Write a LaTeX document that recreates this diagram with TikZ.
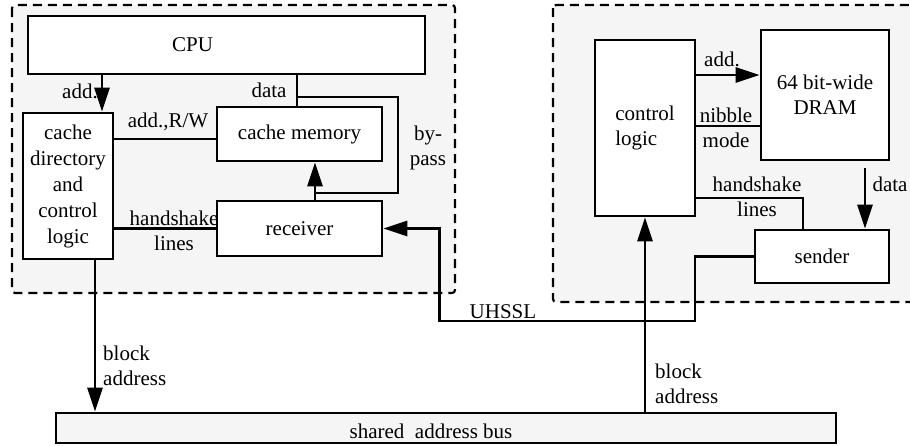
\documentclass[tikz,border=0pt]{standalone}
\usepackage{fontspec}
\setmainfont{Liberation Serif}
\usetikzlibrary{arrows.meta}
\definecolor{grpfill}{HTML}{F5F5F5}

\begin{document}
\begin{tikzpicture}[x=1pt,y=-1pt,
  font=\fontsize{21}{25}\selectfont,
  box/.style={draw, line width=2.8pt, fill=white, inner sep=0pt, align=center},
  grp/.style={draw, line width=2.2pt, dash pattern=on 9pt off 6pt, fill=grpfill, rounded corners=3pt},
  wire/.style={line width=2.8pt},
  arr/.style={wire, -{Triangle[length=24pt,width=15pt]}},
  lbl/.style={inner sep=0pt, align=center}]

\useasboundingbox (0,0) rectangle (910,445);

% Groups
  \draw[grp] (12,5) rectangle (455,293);
  \draw[grp] (553,5) rectangle (925,302);

% Nodes
  \node[box, minimum width=397, minimum height=58]  (cpu)       at (226.5,45)  {CPU\hspace{68pt}};
  \node[box, minimum width=90, minimum height=146,
        font=\fontsize{21}{26}\selectfont]           (cacheDir)  at (68,186)    {cache\\directory\\and\\control\\logic};
  \node[box, minimum width=165, minimum height=54]  (cacheMem)  at (299.5,134) {cache memory};
  \node[box, minimum width=165, minimum height=55]  (receiver)  at (299.5,228.5) {receiver};
  \node[box, minimum width=100, minimum height=176,
        align=left]                                  (ctrlLogic) at (645,128)   {control\\logic};
  \node[box, minimum width=128, minimum height=130] (dram)      at (825,95)    {64 bit-wide\\DRAM};
  \node[box, minimum width=134, minimum height=53]  (sender)    at (822,256.5) {sender};
  \node[box, minimum width=780, minimum height=30,
        fill=grpfill]                                (bus)       at (446,428)   {\raisebox{-6pt}[9pt][0pt]{shared\ \ address bus}\hspace{30pt}};

% Labels
  \node[lbl] (lblAdd)     at (80,91)   {add.};
  \node[lbl] (lblData)    at (269,90)  {data};
  \node[lbl] (lblAddRW)   at (168,122) {add.,R/W};
  \node[lbl] (lblHsL)     at (174,231) {handshake\\lines};
  \node[lbl] (lblBypass)  at (428,148) {by-\\pass};
  \node[lbl] (lblUhssl)   at (503,312) {UHSSL};
  \node[lbl] (lblAddR)    at (722,59)  {add.};
  \node[lbl] (lblNibble)  at (726,128) {nibble\\mode};
  \node[lbl] (lblHsR)     at (757,197) {handshake\\lines};
  \node[lbl] (lblDataR)   at (890,184) {data};
  \node[lbl, align=left, anchor=west] (lblBlkL) at (103,366) {block\\address};
  \node[lbl, align=left, anchor=west] (lblBlkR) at (655,384) {block\\address};

% Coordinates
  \coordinate (addL)      at ([xshift=34]cacheDir.north);
  \coordinate (blkL)      at ([xshift=27]cacheDir.south);
  \coordinate (bypassTop) at (297,97);
  \coordinate (bypassEnd) at (315,193);
  \coordinate (uhsslLow)  at (695,321);
  \coordinate (dataTop)   at (865,168);

% Edges
  \draw[arr]  (addL |- cpu.south) -- (addL);
  \draw[wire] (cacheDir.east |- 0,139) -- (cacheMem.west |- 0,139);
  \draw[wire] (cacheDir.east |- receiver.west) -- (receiver.west);
  \draw[wire] (cpu.south -| bypassTop) -- (cacheMem.north -| bypassTop);
  \draw[wire] (bypassTop) -- ++(101,0) |- (bypassEnd);
  \draw[arr]  (receiver.north -| bypassEnd) -- (cacheMem.south -| bypassEnd);
  \draw[arr]  (sender.west) -| (uhsslLow) -| ([xshift=56]receiver.east) -- (receiver.east);
  \draw[arr]  (ctrlLogic.east |- 0,75) -- (dram.west |- 0,75);
  \draw[wire] (ctrlLogic.east |- 0,126) -- (dram.west |- 0,126);
  \draw[wire] (ctrlLogic.east |- 0,198) -| (sender.north -| 803,0);
  \draw[arr]  (dataTop) -- (sender.north -| dataTop);
  \draw[arr]  (blkL) -- (blkL |- bus.north);
  \draw[arr]  (bus.north -| ctrlLogic.south) -- (ctrlLogic.south);

\end{tikzpicture}
\end{document}
